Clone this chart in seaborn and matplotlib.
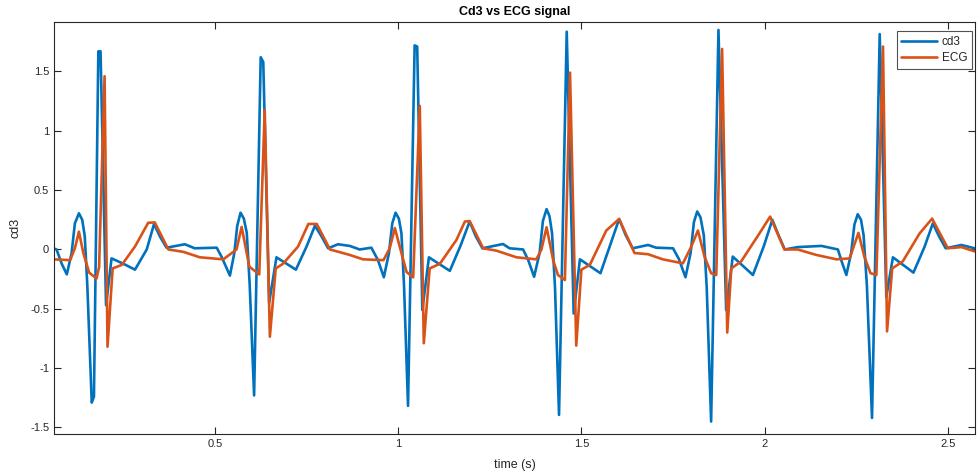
import numpy as np
import pandas as pd
import matplotlib
matplotlib.use("Agg")
import matplotlib.pyplot as plt
import seaborn as sns

# ---- data ----
cd3_t = [0.059, 0.068, 0.082, 0.096, 0.109, 0.118, 0.129, 0.138, 0.145, 0.152, 0.164, 0.170, 0.182, 0.188, 0.203, 0.218, 0.250, 0.282, 0.314, 0.334, 0.350, 0.368, 0.418, 0.445, 0.505,
         0.518, 0.541, 0.553, 0.561, 0.570, 0.579, 0.587, 0.595, 0.607, 0.625, 0.632, 0.648, 0.668, 0.721, 0.750, 0.773, 0.791, 0.809, 0.836,
         0.868, 0.895, 0.927, 0.945, 0.961, 0.975, 0.984, 0.993, 1.002, 1.009, 1.016, 1.027, 1.045, 1.052, 1.066, 1.084, 1.141, 1.170, 1.195, 1.212, 1.230, 1.286, 1.304, 1.341,
         1.355, 1.371, 1.386, 1.395, 1.405, 1.413, 1.420, 1.428, 1.439, 1.460, 1.479, 1.496, 1.552, 1.580, 1.603, 1.621, 1.640, 1.682,
         1.704, 1.750, 1.766, 1.784, 1.798, 1.807, 1.816, 1.825, 1.834, 1.842, 1.854, 1.874, 1.895, 1.913, 1.968, 1.998, 2.021, 2.038, 2.055, 2.090, 2.155, 2.200,
         2.209, 2.223, 2.236, 2.245, 2.254, 2.263, 2.270, 2.279, 2.293, 2.314, 2.332, 2.350, 2.406, 2.436, 2.459, 2.476, 2.494, 2.537, 2.573]
cd3_v = [0.01, 0.0, -0.12, -0.21, -0.03, 0.22, 0.305, 0.25, 0.11, -0.31, -1.29, -1.24, 1.67, 1.67, -0.47, -0.075, -0.12, -0.17, 0.0, 0.215, 0.11, 0.015, 0.044, 0.01, 0.015,
         -0.06, -0.22, -0.03, 0.20, 0.31, 0.26, 0.14, -0.30, -1.23, 1.62, 1.58, -0.45, -0.066, -0.17, 0.024, 0.20, 0.11, 0.01, 0.044,
         0.03, 0.0, 0.015, -0.09, -0.234, -0.03, 0.22, 0.31, 0.26, 0.136, -0.30, -1.318, 1.72, 1.71, -0.51, -0.066, -0.18, 0.03, 0.235, 0.11, 0.01, 0.046, 0.01, 0.0,
         -0.09, -0.23, -0.03, 0.24, 0.34, 0.28, 0.136, -0.32, -1.394, 1.835, -0.54, -0.083, -0.20, 0.05, 0.257, 0.12, 0.01, 0.038,
         0.015, 0.01, -0.08, -0.234, -0.03, 0.23, 0.32, 0.27, 0.12, -0.32, -1.45, 1.85, -0.51, -0.06, -0.215, 0.03, 0.25, 0.12, 0.0, 0.02, 0.03, 0.0,
         -0.09, -0.215, -0.03, 0.21, 0.297, 0.25, 0.12, -0.30, -1.42, 1.815, -0.40, -0.066, -0.195, 0.02, 0.22, 0.11, 0.01, 0.038, 0.01]

ecg_t = [0.059, 0.105, 0.118, 0.129, 0.141, 0.157, 0.177, 0.184, 0.199, 0.207, 0.221, 0.246, 0.282, 0.318, 0.336, 0.373, 0.414, 0.459, 0.523,
         0.559, 0.573, 0.594, 0.621, 0.636, 0.650, 0.666, 0.686, 0.727, 0.755, 0.778, 0.814, 0.868,
         0.904, 0.960, 0.977, 0.991, 1.009, 1.023, 1.041, 1.059, 1.070, 1.086, 1.114, 1.159, 1.182, 1.195, 1.232, 1.268, 1.323, 1.377,
         1.391, 1.405, 1.423, 1.436, 1.455, 1.469, 1.486, 1.500, 1.523, 1.568, 1.603, 1.645, 1.682,
         1.722, 1.777, 1.800, 1.818, 1.836, 1.854, 1.868, 1.884, 1.898, 1.909, 1.936, 1.986, 2.015, 2.054, 2.090, 2.141, 2.196,
         2.232, 2.243, 2.256, 2.272, 2.289, 2.305, 2.323, 2.334, 2.348, 2.377, 2.423, 2.457, 2.500, 2.537, 2.573]
ecg_v = [-0.083, -0.09, 0.01, 0.15, -0.03, -0.195, -0.245, -0.15, 1.46, -0.82, -0.16, -0.13, 0.025, 0.225, 0.228, 0.0, -0.02, -0.066, -0.083,
         0.0, 0.19, -0.145, -0.21, 1.175, -0.735, -0.16, -0.12, 0.025, 0.215, 0.215, 0.0, -0.046,
         -0.083, -0.09, 0.01, 0.18, -0.03, -0.19, -0.235, 1.21, -0.79, -0.16, -0.12, 0.08, 0.235, 0.24, 0.01, -0.01, -0.066, -0.083,
         0.0, 0.187, -0.09, -0.215, -0.257, 1.49, -0.81, -0.17, -0.13, 0.16, 0.257, -0.03, -0.04,
         -0.083, -0.117, 0.025, 0.16, -0.06, -0.20, -0.215, 1.69, -0.70, -0.16, -0.10, 0.136, 0.277, 0.0, 0.0, -0.046, -0.083,
         -0.075, 0.025, 0.14, -0.06, -0.20, -0.215, 1.71, -0.69, -0.16, -0.10, 0.136, 0.26, 0.01, 0.02, -0.016]

x_ticks = [0.5, 1.0, 1.5, 2.0, 2.5]
x_tick_labels = ["0.5", "1", "1.5", "2", "2.5"]
y_ticks = [-1.5, -1.0, -0.5, 0.0, 0.5, 1.0, 1.5]
y_tick_labels = ["-1.5", "-1", "-0.5", "0", "0.5", "1", "1.5"]

sns.set_style("white")
plt.rcParams["font.family"] = ["Liberation Sans", "DejaVu Sans"]

fig = plt.figure(figsize=(9.77, 4.75), dpi=100)
ax = fig.add_axes([54 / 977, 41 / 475, 921 / 977, 412 / 475])

df_cd3 = pd.DataFrame({"t": cd3_t, "v": cd3_v})
df_ecg = pd.DataFrame({"t": ecg_t, "v": ecg_v})
sns.lineplot(data=df_cd3, x="t", y="v", ax=ax, sort=False, color="#0072BD", lw=1.9, label="cd3")
sns.lineplot(data=df_ecg, x="t", y="v", ax=ax, sort=False, color="#D95319", lw=1.9, label="ECG")

ax.set_xlim(0.061, 2.574)
ax.set_ylim(-1.555, 1.917)
ax.set_xticks(x_ticks)
ax.set_xticklabels(x_tick_labels)
ax.set_yticks(y_ticks)
ax.set_yticklabels(y_tick_labels)
ax.tick_params(direction="in", length=5, width=0.8, labelsize=8, colors="#262626",
               top=True, right=True, bottom=True, left=True)
for s in ax.spines.values():
    s.set_color("#262626")
    s.set_linewidth(0.8)

ax.set_xlabel("time (s)", fontsize=9, color="#262626", labelpad=7)
ax.set_ylabel("cd3", fontsize=9, color="#262626", labelpad=6)
ax.set_title("Cd3 vs ECG signal", fontsize=9, fontweight="bold", color="#000000", pad=5)

leg = ax.legend(loc="upper right", fontsize=8.5, frameon=True, fancybox=False,
                handlelength=3.0, borderpad=0.4, labelspacing=0.35, handletextpad=0.4,
                borderaxespad=0.0, bbox_to_anchor=(0.9967, 0.978))
leg.get_frame().set_edgecolor("#262626")
leg.get_frame().set_linewidth(0.8)

fig.savefig("out.png", dpi=100)
